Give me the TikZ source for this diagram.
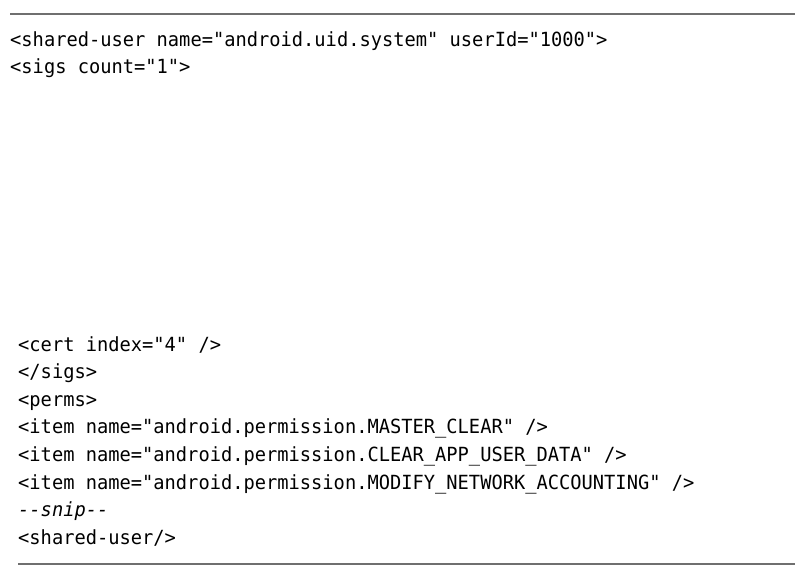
\documentclass[tikz,border=0pt]{standalone}
\usepackage{fontspec}
\setmonofont{DejaVu Sans Mono}[FakeStretch=0.96]
\usepackage{tikz}
\usetikzlibrary{positioning}
\definecolor{rulegray}{HTML}{6F6F6F}
\tikzset{codeline/.style={inner sep=0pt, anchor=base west, font=\ttfamily\fontsize{19.5pt}{23pt}\selectfont},
  listingrule/.style={draw=rulegray, line width=2pt}}

\begin{document}
\begin{tikzpicture}[x=1pt, y=1pt]
  \useasboundingbox (0,0) rectangle (795,579);
  % rules above and below the listing
  \coordinate (topL) at (10,565);
  \coordinate (topR) at (795,565);
  \coordinate (botL) at (18,15);
  \coordinate (botR) at (795,15);
  \draw[listingrule] (topL) -- (topR);
  \draw[listingrule] (botL) -- (botR);
  % upper part
  \node[codeline] (shared) at (10,532) {<shared-user name="android.uid.system" userId="1000">};
  \node[codeline, below=26.5pt of shared.base west, anchor=base west] (sigs) {<sigs count="1">};
  % lower part
  \node[codeline] (cert) at (18,228) {<cert index="4" />};
  \node[codeline, below=27.6pt of cert.base west, anchor=base west] (endsigs) {</sigs>};
  \node[codeline, below=27.6pt of endsigs.base west, anchor=base west] (perms) {<perms>};
  \node[codeline, below=27.6pt of perms.base west, anchor=base west] (master) {<item name="android.permission.MASTER\_CLEAR" />};
  \node[codeline, below=27.6pt of master.base west, anchor=base west] (clear) {<item name="android.permission.CLEAR\_APP\_USER\_DATA" />};
  \node[codeline, below=27.6pt of clear.base west, anchor=base west] (modify) {<item name="android.permission.MODIFY\_NETWORK\_ACCOUNTING" />};
  \node[codeline, below=27.6pt of modify.base west, anchor=base west] (snip) {\itshape --snip--};
  \node[codeline, below=27.6pt of snip.base west, anchor=base west] (endshared) {<shared-user/>};
\end{tikzpicture}
\end{document}
